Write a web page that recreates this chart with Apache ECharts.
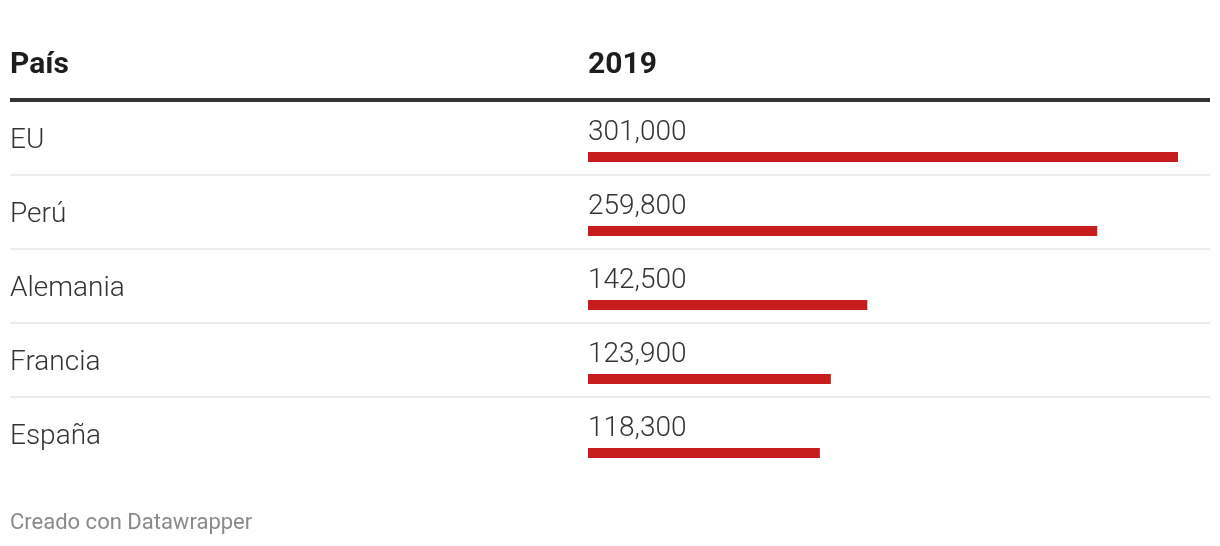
<!DOCTYPE html>
<html>
<head>
<meta charset="utf-8">
<script src="https://cdn.jsdelivr.net/npm/echarts@6/dist/echarts.min.js"></script>
<style>
  html, body { margin: 0; padding: 0; background: #fff; }
  #chart { width: 1220px; height: 546px; }
</style>
</head>
<body>
<div id="chart"></div>
<script>
const countries = ['EU', 'Perú', 'Alemania', 'Francia', 'España'];
const values2019 = [301000, 259800, 142500, 123900, 118300];
const columnHeaders = ['País', '2019'];
const footerText = 'Creado con Datawrapper';

const FONT = 'Roboto, "Noto Sans", sans-serif';
const fmt = v => v.toLocaleString('en-US');

const chart = echarts.init(document.getElementById('chart'), null, { renderer: 'canvas' });

const seriesData = values2019.map((v, i) => [v, i]);

chart.setOption({
  animation: false,
  backgroundColor: '#ffffff',
  grid: { left: 588, right: 42, top: 102, height: 370 },
  xAxis: { type: 'value', min: 0, max: 301000, show: false },
  yAxis: { type: 'category', data: countries, inverse: true, show: false },
  graphic: [
    { type: 'text', left: 10, top: 50, style: { text: columnHeaders[0], font: 'bold 30px ' + FONT, fill: '#1d1d1d' } },
    { type: 'text', left: 588, top: 50, style: { text: columnHeaders[1], font: 'bold 30px ' + FONT, fill: '#1d1d1d' } },
    { type: 'rect', left: 10, top: 98, shape: { width: 1200, height: 4 }, style: { fill: '#333333' } },
    { type: 'text', left: 10, top: 512, style: { text: footerText, font: '22px ' + FONT, fill: '#8a8a8a' } }
  ],
  series: [{
    type: 'custom',
    data: seriesData,
    encode: { x: 0, y: 1 },
    renderItem: function (params, api) {
      const idx = api.value(1);
      const start = api.coord([0, idx]);
      const end = api.coord([api.value(0), idx]);
      const band = api.size([0, 1])[1];
      const cy = start[1];
      const bottom = cy + band / 2;
      const children = [
        { type: 'rect', shape: { x: start[0], y: cy + 13, width: end[0] - start[0], height: 10 }, style: { fill: '#c71e1d' } },
        { type: 'text', style: { x: start[0], y: cy - 6, text: fmt(api.value(0)), font: '300 28px ' + FONT, fill: '#333333', align: 'left', verticalAlign: 'middle' } },
        { type: 'text', style: { x: 10, y: cy + 2, text: countries[idx], font: '300 28px ' + FONT, fill: '#333333', align: 'left', verticalAlign: 'middle' } }
      ];
      if (idx < countries.length - 1) {
        children.push({ type: 'rect', shape: { x: 10, y: bottom - 2, width: 1200, height: 2 }, style: { fill: '#ececec' } });
      }
      return { type: 'group', children: children };
    }
  }]
});
</script>
</body>
</html>
